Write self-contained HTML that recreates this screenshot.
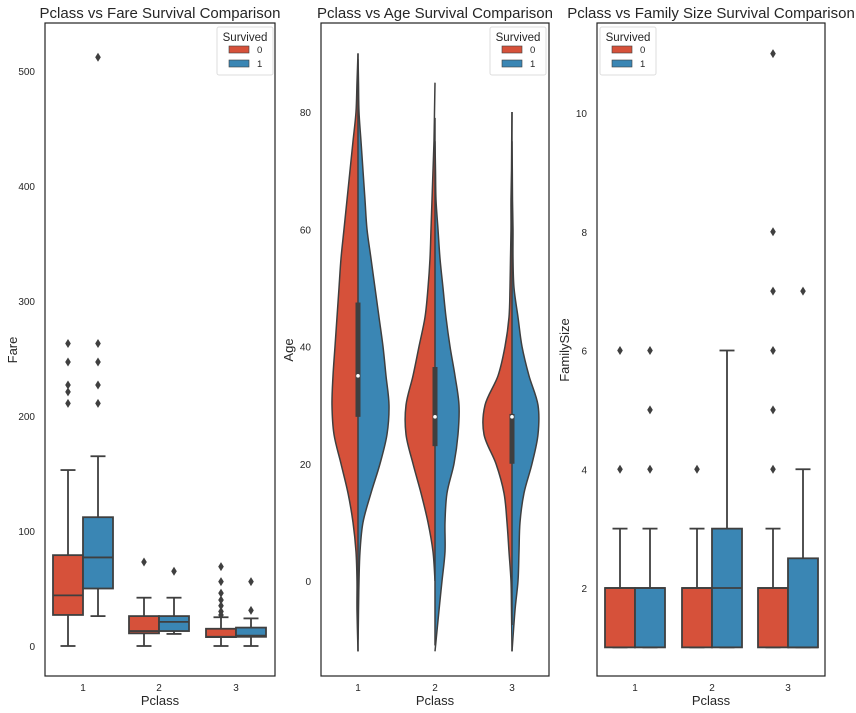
<!DOCTYPE html>
<html><head><meta charset="utf-8"><style>
body{margin:0;background:#fff;}
svg{display:block;font-family:"Liberation Sans",sans-serif;}
</style></head><body>
<svg id="c" width="856" height="713"></svg>
<script>
// ---------- data ----------
const classes = ["1","2","3"];
const fareTicks = [0,100,200,300,400,500];
// [q1, median, q3, whiskerLow, whiskerHigh]
const fareDied = [[27,44,79,0,153],[11,13,26,0,42],[7.75,8,15,0,25]];
const fareSurv = [[50,77,112,26,165],[13,21,26,10.5,42],[8,9,16,0,24]];
const fareDiedOut = [[211,221,227,247,263],[73],[27,30,35,40,46,56,69]];
const fareSurvOut = [[211,227,247,263,512],[65],[31,56]];

const ageTicks = [0,20,40,60,80];
const ageGrid = [-12,-5,0,5,10,15,20,25,30,35,40,45,50,55,60,65,70,75,80,85,90];
const ageDiedDens = [
 [0,1,1,2,5,10,17,24,26,25,23,21,19,17,14,11,8,5,2,1,0],
 [0,0,0,2,7,14,22,29,29,22,16,10,7,5,4,3,2,1,0.5,0,0],
 [0,0.5,1,3,5,8,16,28,27,14,7,3,2,1.5,1,1,0.5,0.3,0,0,0]];
const ageSurvDens = [
 [0,0.5,1,2,5,13,22,29,31,28,25,21,17,13,9,7,5,3,1,0.5,0],
 [0,4,7,10,10,12,19,23,24,20,15,11,8,5,3,1,0.5,0,0,0,0],
 [0,3,6,7,8,12,20,26,26,17,10,6,2,1,1,0.5,0.3,0,0,0,0]];
// [q1, median, q3, low, high]
const ageInner = [[28,35,47.5,-10,89],[23,28,36.5,-11,79],[20,28,28.5,-7.5,80]];

const famTicks = [2,4,6,8,10];
const famDied = [[1,2,2,1,3],[1,2,2,1,3],[1,2,2,1,3]];
const famSurv = [[1,2,2,1,3],[1,2,3,1,6],[1,1,2.5,1,4]];
const famDiedOut = [[4,6],[4],[4,5,6,7,8,11]];
const famSurvOut = [[4,5,6],[],[7]];

// ---------- drawing ----------
const svg = document.getElementById('c');
const NS = 'http://www.w3.org/2000/svg';
const RED = '#d6513a', BLUE = '#3a86b4', EDGE = '#3f3f3f';
function mk(tag, attrs, parent){const e=document.createElementNS(NS,tag);for(const k in attrs)e.setAttribute(k,attrs[k]);(parent||svg).appendChild(e);return e;}
function txt(s,x,y,size,anchor,parent,rot){const t=mk('text',{x:x,y:y,'font-size':size,'text-anchor':anchor||'middle',fill:'#262626'},parent);if(rot)t.setAttribute('transform',`rotate(-90 ${x} ${y})`);t.textContent=s;return t;}

const panels = [
 {x0:45,x1:275,title:"Pclass vs Fare Survival Comparison",ylab:"Fare",v0:0,p0:646,v1:100,p1:531,ticks:fareTicks,tx:[83,159,236],legX:217},
 {x0:321,x1:549,title:"Pclass vs Age Survival Comparison",ylab:"Age",v0:0,p0:581,v1:80,p1:112,ticks:ageTicks,tx:[358,435,512],legX:490},
 {x0:597,x1:825,title:"Pclass vs Family Size Survival Comparison",ylab:"FamilySize",v0:2,p0:588,v1:10,p1:113,ticks:famTicks,tx:[635,712,788],legX:600}
];
const Y0=23, Y1=676;
panels.forEach((P,pi)=>{
  const g = mk('g',{});
  
  
  P.y = v => P.p0 + (v-P.v0)*(P.p1-P.p0)/(P.v1-P.v0);
  const t=txt(P.title,(P.x0+P.x1)/2,18,15,'middle',g);
  
  P.ticks.forEach(v=>{const l=txt(String(v),P.x0-10,P.y(v)+4,10,'end',g);});
  classes.forEach((c,i)=>{const l=txt(c,P.tx[i],691,10,'middle',g);});
  const xl=txt('Pclass',(P.x0+P.x1)/2,705,13,'middle',g);
  const yl=txt(P.ylab,P.x0-28,350,13,'middle',g,true);
  P.g=g;
});

function boxes(P,died,surv,dOut,sOut){
  const hw=30;
  [[died,dOut,RED,-1],[surv,sOut,BLUE,0]].forEach(([S,O,col,off])=>{
    S.forEach((b,i)=>{
      const x=P.tx[i]+off*hw, cx=x+hw/2;
      const ln=(x1,y1,x2,y2)=>mk('line',{x1,y1,x2,y2,stroke:EDGE,'stroke-width':1.8},P.g);
      let e=ln(cx,P.y(b[2]),cx,P.y(b[4]));
      e=ln(cx,P.y(b[0]),cx,P.y(b[3]));
      e=ln(cx-7.5,P.y(b[4]),cx+7.5,P.y(b[4]));
      e=ln(cx-7.5,P.y(b[3]),cx+7.5,P.y(b[3]));
      const r=mk('rect',{x:x,y:P.y(b[2]),width:hw,height:Math.max(P.y(b[0])-P.y(b[2]),0.5),fill:col,stroke:EDGE,'stroke-width':1.8},P.g);
      
      e=ln(x,P.y(b[1]),x+hw,P.y(b[1]));
      O[i].forEach(v=>{const d=mk('path',{d:`M${cx} ${P.y(v)-4.5}L${cx+2.8} ${P.y(v)}L${cx} ${P.y(v)+4.5}L${cx-2.8} ${P.y(v)}Z`,fill:EDGE},P.g);
        });
    });
  });
}
boxes(panels[0],fareDied,fareSurv,fareDiedOut,fareSurvOut);
boxes(panels[2],famDied,famSurv,famDiedOut,famSurvOut);

// violins
function smoothPath(pts){
  let d=`M${pts[0][0]} ${pts[0][1]}`;
  for(let i=0;i<pts.length-1;i++){
    const p0=pts[Math.max(i-1,0)],p1=pts[i],p2=pts[i+1],p3=pts[Math.min(i+2,pts.length-1)];
    d+=`C${p1[0]+(p2[0]-p0[0])/6} ${p1[1]+(p2[1]-p0[1])/6} ${p2[0]-(p3[0]-p1[0])/6} ${p2[1]-(p3[1]-p1[1])/6} ${p2[0]} ${p2[1]}`;
  }
  return d;
}
(function(){
  const P=panels[1];
  classes.forEach((c,i)=>{
    const cx=P.tx[i];
    [[ageDiedDens,RED,-1,'died'],[ageSurvDens,BLUE,1,'survived']].forEach(([D,col,s,nm])=>{
      let a0=0,a1=ageGrid.length-1;
      while(a0<a1 && D[i][a0+1]===0) a0++;
      while(a1>a0 && D[i][a1-1]===0) a1--;
      const pts=[];
      for(let k=a0;k<=a1;k++) pts.push([cx+s*D[i][k],P.y(ageGrid[k])]);
      const curve=smoothPath(pts);
      const p=mk('path',{d:curve+'Z',fill:col,stroke:'none'},P.g);
      
      const o=mk('path',{d:curve,fill:'none',stroke:EDGE,'stroke-width':1.5,'stroke-linejoin':'round'},P.g);
      
    });
    const b=ageInner[i];
    let e=mk('line',{x1:cx,y1:P.y(b[3]),x2:cx,y2:P.y(b[4]),stroke:EDGE,'stroke-width':1.5},P.g);
    
    e=mk('rect',{x:cx-2.5,y:P.y(b[2]),width:5,height:P.y(b[0])-P.y(b[2]),fill:EDGE},P.g);
    
    e=mk('circle',{cx:cx,cy:P.y(b[1]),r:1.8,fill:'#fff'},P.g);
    
  });
})();

// frames and legends
panels.forEach(P=>{
  const f=mk('rect',{x:P.x0,y:Y0,width:P.x1-P.x0,height:Y1-Y0,fill:'none',stroke:'#222','stroke-width':1.2},P.g);
  
  const lg=mk('g',{},P.g);
  
  mk('rect',{x:P.legX,y:27,width:56,height:48,fill:'#fff',stroke:'#ddd','stroke-width':1,rx:2},lg);
  txt('Survived',P.legX+28,41,11.5,'middle',lg);
  const a=mk('rect',{x:P.legX+12,y:46,width:20,height:7,fill:RED,stroke:EDGE,'stroke-width':0.6},lg);
  
  txt('0',P.legX+40,53,9.5,'start',lg);
  const b=mk('rect',{x:P.legX+12,y:60,width:20,height:7,fill:BLUE,stroke:EDGE,'stroke-width':0.6},lg);
  
  txt('1',P.legX+40,67,9.5,'start',lg);
});
</script>
</body></html>
